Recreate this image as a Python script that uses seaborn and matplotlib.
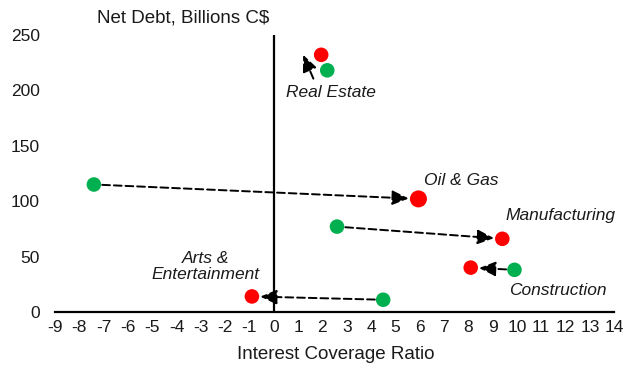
import matplotlib
matplotlib.use("Agg")
import matplotlib.pyplot as plt
import matplotlib.transforms as mtransforms
import seaborn as sns
import pandas as pd

sectors = ["Real Estate", "Oil & Gas", "Manufacturing", "Construction", "Arts & Entertainment"]
coverage_before = [2.2, -7.4, 2.6, 9.9, 4.5]
debt_before = [218, 115, 77, 38, 11]
coverage_after = [1.95, 5.95, 9.4, 8.1, -0.9]
debt_after = [232, 102, 66, 40, 14]
after_sizes = [110, 150, 110, 110, 110]
label_text = ["Real Estate", "Oil & Gas", "Manufacturing", "Construction", "Arts &\nEntertainment"]
label_x = [2.37, 7.7, 11.8, 11.7, -2.8]
label_y = [198, 119, 87, 19, 41]
x_ticks = list(range(-9, 15))
y_ticks = [0, 50, 100, 150, 200, 250]

sns.set_theme(style="white")
plt.rcParams["font.family"] = ["Liberation Sans", "DejaVu Sans"]
plt.rcParams["axes.unicode_minus"] = False

df = pd.DataFrame({
    "sector": sectors * 2,
    "coverage": coverage_before + coverage_after,
    "debt": debt_before + debt_after,
    "period": ["before"] * 5 + ["after"] * 5,
    "size": [110] * 5 + after_sizes,
})

fig = plt.figure(figsize=(6.29, 3.67), dpi=100)
ax = fig.add_axes([0.0874, 0.150, 0.889, 0.755])

arrow_kw = dict(arrowstyle="-|>,head_length=0.5,head_width=0.22", color="black",
                lw=1.4, linestyle=(0, (4, 2)), mutation_scale=20)

for i, s in enumerate(sectors):
    if s == "Real Estate":
        tip = mtransforms.offset_copy(ax.transData, fig=fig, x=-13, y=0, units="points")
        tail = mtransforms.offset_copy(ax.transData, fig=fig, x=-10, y=-6, units="points")
        ax.annotate("", xy=(coverage_after[i], debt_after[i]), xycoords=tip,
                    xytext=(coverage_before[i], debt_before[i]), textcoords=tail,
                    arrowprops=dict(**arrow_kw, shrinkA=0, shrinkB=0))
    else:
        ax.annotate("", xy=(coverage_after[i], debt_after[i]),
                    xytext=(coverage_before[i], debt_before[i]),
                    arrowprops=dict(**arrow_kw, shrinkA=6, shrinkB=6 if i != 1 else 7))

sns.scatterplot(data=df, x="coverage", y="debt", hue="period", size="size",
                sizes=(110, 150), palette={"before": "#00B050", "after": "#FF0000"},
                linewidth=0, legend=False, ax=ax, zorder=3)

for t, lx, ly in zip(label_text, label_x, label_y):
    ax.text(lx, ly, t, ha="center", va="center", fontsize=12.5, style="italic",
            color="#1a1a1a", linespacing=1.05)

ax.set_xlim(-9, 14)
ax.set_ylim(0, 250)
ax.set_xticks(x_ticks)
ax.set_yticks(y_ticks)
ax.tick_params(axis="both", length=0, labelsize=12.5, colors="#1a1a1a")
ax.tick_params(axis="y", pad=11)
ax.tick_params(axis="x", pad=6)

for side in ["top", "right", "left"]:
    ax.spines[side].set_visible(False)
ax.spines["bottom"].set_color("black")
ax.spines["bottom"].set_linewidth(1.6)
ax.axvline(0, color="black", lw=1.6, zorder=1)

ax.set_xlabel("Interest Coverage Ratio", fontsize=13.5, color="#1a1a1a", va="center")
ax.xaxis.set_label_coords(0.503, -0.155)
ax.set_ylabel("Net Debt, Billions C$", fontsize=13.5, color="#1a1a1a", rotation=0,
              ha="center", va="center")
ax.yaxis.set_label_coords(0.229, 1.061)

fig.savefig("out.png", dpi=100)
